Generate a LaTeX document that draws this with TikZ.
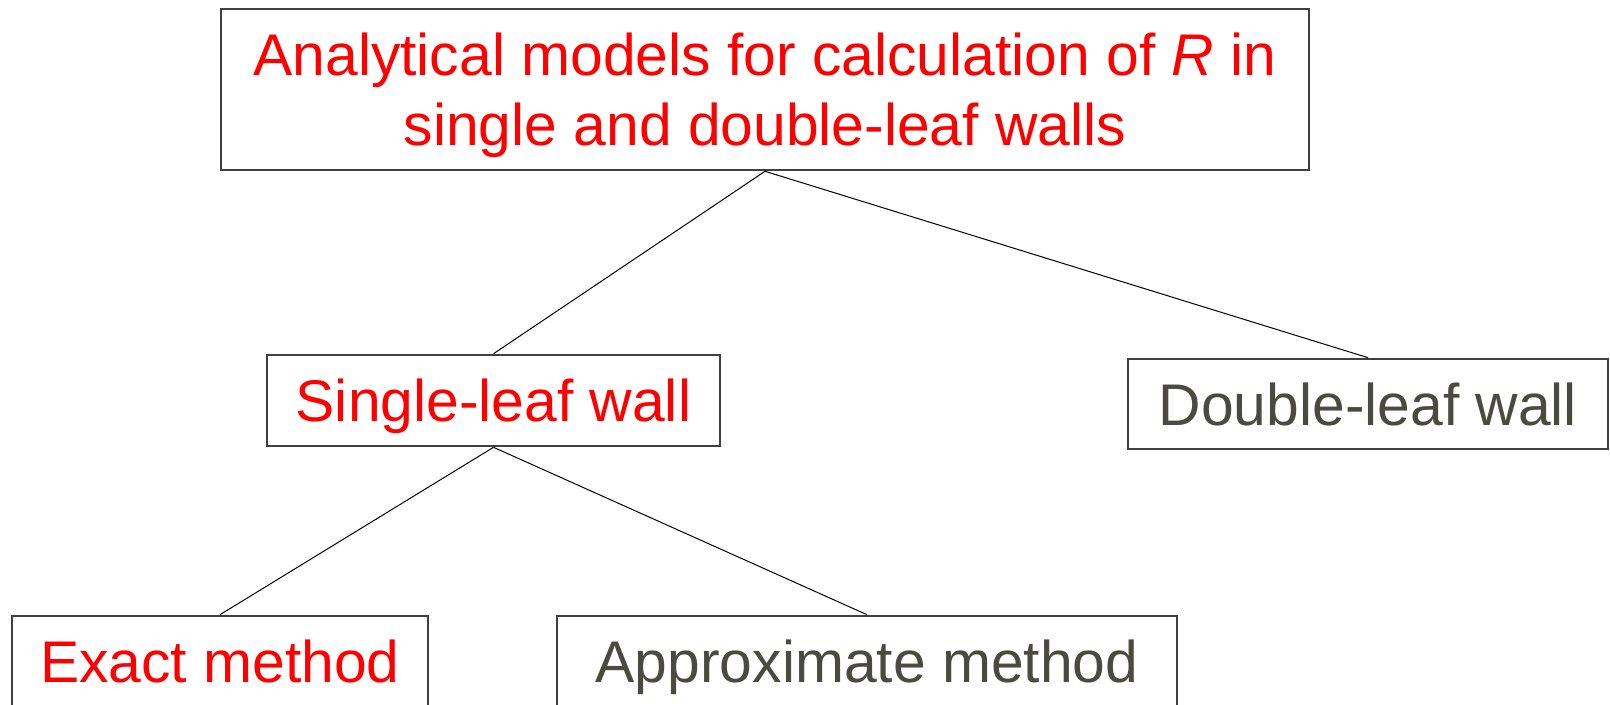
\documentclass[tikz,border=0pt]{standalone}
\usepackage{fontspec}
\setmainfont{Liberation Sans}
\definecolor{cred}{RGB}{255,0,0}
\definecolor{cgrey}{RGB}{74,74,64}
\definecolor{cedge}{RGB}{64,64,64}
\tikzset{walltree/.style={x=0.5pt,y=-0.5pt},
  wbox/.style={draw=cedge,line width=1.3pt,inner sep=0pt,
    font=\fontsize{29.4pt}{35pt}\selectfont,text height=21pt,text depth=0pt},
  wlink/.style={line width=0.5pt}}

\begin{document}
\begin{tikzpicture}[walltree]
    \useasboundingbox (0,0) rectangle (1610,705);
    \node[wbox,text=cred,align=center,text height=56pt,minimum width=544pt,minimum height=80.5pt]
      (models) at (765,89.5) {Analytical models for calculation of \textit{R} in\\single and double-leaf walls};
    \node[wbox,text=cred,minimum width=226.5pt,minimum height=45.5pt] (single) at (493.5,400.5) {Single-leaf wall};
    \node[wbox,text=cgrey,minimum width=240pt,minimum height=45pt] (double) at (1368,404) {Double-leaf wall};
    \node[wbox,text=cred,minimum width=208pt,minimum height=45.5pt] (exact) at (220,661.5) {Exact method};
    \node[wbox,text=cgrey,minimum width=310pt,minimum height=45.5pt] (approx) at (867,661.5) {Approximate method};
    % tree links
    \draw[wlink] (models.south) -- (single.north);
    \draw[wlink] (models.south) -- (double.north);
    \draw[wlink] (single.south) -- (exact.north);
    \draw[wlink] (single.south) -- (approx.north);
\end{tikzpicture}
\end{document}
